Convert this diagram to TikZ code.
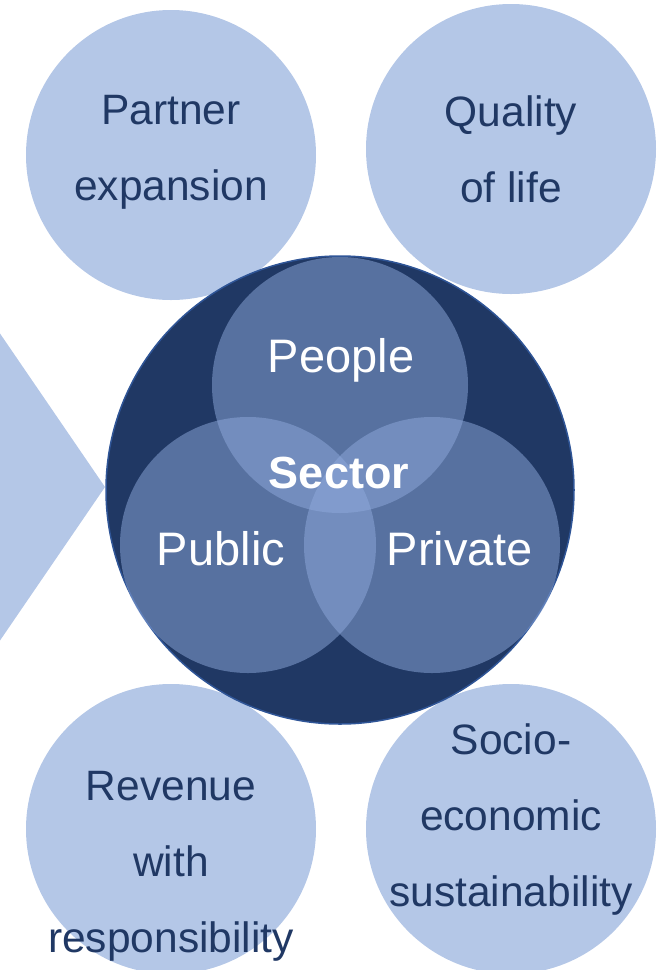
\documentclass[tikz,border=0pt]{standalone}
\usepackage{fontspec}
\setmainfont{Liberation Sans}
\definecolor{goalblue}{HTML}{B4C7E7}
\definecolor{navy}{HTML}{203864}
\definecolor{rimblue}{HTML}{2F5597}
\definecolor{vennblue}{HTML}{8FAADC}
\tikzset{
	goal/.style = {circle, fill=goalblue, inner sep=0pt, minimum size=290pt},
	goaltext/.style = {align=center, text=navy, inner sep=0pt, font=\fontsize{42.5}{76}\selectfont},
	core/.style = {circle, fill=navy, draw=rimblue, line width=1.5pt, inner sep=0pt, minimum size=468pt},
	part/.style = {circle, fill=vennblue, fill opacity=0.5, inner sep=0pt, minimum size=256pt},
	parttext/.style = {anchor=base, white, inner sep=0pt, font=\fontsize{47}{56}\selectfont},
	pointer/.style = {fill=goalblue}
}
\begin{document}
\begin{tikzpicture}[x=1pt, y=-1pt]
\useasboundingbox (0,0) rectangle (669,970);

% outcome circles
\node [goal] (partner) at (171,155) {};
\node [goal] (quality) at (511,149) {};
\node [goal] (revenue) at (171,829) {};
\node [goal] (socio) at (511,829) {};

% arrow from the left
\fill [pointer] (-40,275) -- (105,487) -- (-40,699) -- cycle;

% sector venn
\node [core] (sector) at (340,490) {};
\node [part] (people) at (340,385) {};
\node [part] (public) at (248,545) {};
\node [part] (private) at (432,545) {};

% texts
\node [goaltext] (partnertext) at (171,152) {Partner\\expansion};
\node [goaltext] (qualitytext) at (511,149) {Quality\\of life};
\node [goaltext] (revenuetext) at (171,866) {Revenue\\with\\responsibility};
\node [goaltext] (sociotext) at (511,819) {Socio-\\economic\\sustainability};

\node [parttext] (peopletext) at (341,372) {People};
\node [parttext, font=\fontsize{45}{54}\selectfont\bfseries] (sectortext) at (339,488) {Sector};
\node [parttext] (publictext) at (221,565) {Public};
\node [parttext] (privatetext) at (460,565) {Private};
\end{tikzpicture}
\end{document}
